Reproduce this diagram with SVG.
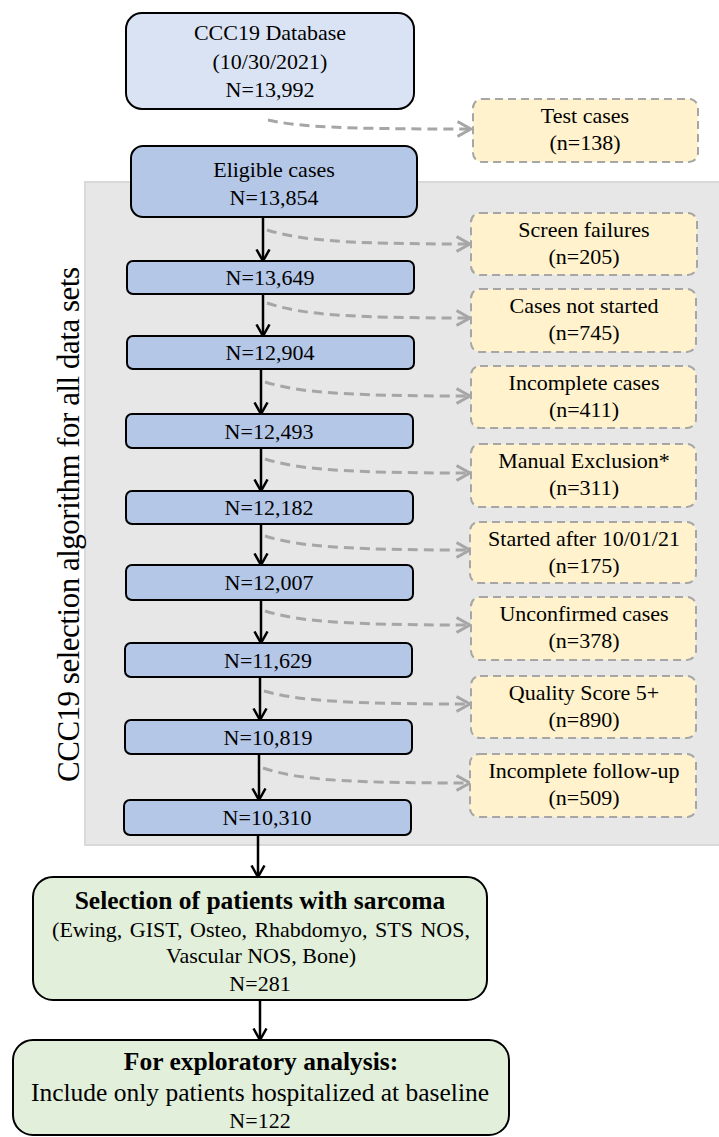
<svg xmlns="http://www.w3.org/2000/svg" width="719" height="1137" viewBox="0 0 719 1137">
<style>
text{font-family:"Liberation Serif","Times New Roman",serif;font-size:22px;fill:#000;text-anchor:middle}
.b{font-weight:bold;font-size:25.5px}
.big{font-size:25.5px}
.top{fill:#dae3f3;stroke:#000;stroke-width:2}
.blue{fill:#b4c7e7;stroke:#000;stroke-width:2}
.yel{fill:#fff2cc;stroke:#a6a6a6;stroke-width:2;stroke-dasharray:8 5}
.grn{fill:#e2efda;stroke:#000;stroke-width:2}
.arr{fill:none;stroke:#000;stroke-width:2.5;marker-end:url(#ah)}
.dash{fill:none;stroke:#a6a6a6;stroke-width:3;stroke-dasharray:10 6;marker-end:url(#gh)}
</style>
<defs>
<marker id="ah" viewBox="0 0 14 16" refX="12.5" refY="8" markerWidth="14" markerHeight="16" markerUnits="userSpaceOnUse" orient="auto"><path d="M1,1.5 L12.5,8 L1,14.5" fill="none" stroke="#000" stroke-width="2.5"/></marker>
<marker id="gh" viewBox="0 0 16 18" refX="14.5" refY="9" markerWidth="16" markerHeight="18" markerUnits="userSpaceOnUse" orient="auto"><path d="M1,1.5 L14.5,9 L1,16.5" fill="none" stroke="#a6a6a6" stroke-width="3"/></marker>
</defs>
<rect x="0" y="0" width="719" height="1137" fill="#fff"/>
<g id="band">
<rect x="85" y="182" width="640" height="663" fill="#e7e7e7" stroke="#d9d9d9" stroke-width="2"/>
<text transform="translate(79,524.5) rotate(-90)" style="font-size:31px" textLength="515" lengthAdjust="spacing">CCC19 selection algorithm for all data sets</text>
</g>
<g id="connectors">
<path class="arr" d="M263,217 V261"/>
<path class="arr" d="M263,294 V336"/>
<path class="arr" d="M261,369 V414"/>
<path class="arr" d="M261,448 V491"/>
<path class="arr" d="M261,524 V565"/>
<path class="arr" d="M261,600 V643"/>
<path class="arr" d="M260,677 V720"/>
<path class="arr" d="M259,754 V800"/>
<path class="arr" d="M258,835 V877"/>
<path class="arr" d="M260,1000 V1040"/>
<path class="dash" d="M268,120 C300,127 340,129 471,129"/>
<path class="dash" d="M267,230 C300,240 340,244 470,244"/>
<path class="dash" d="M267,303 C300,314 340,318 470,318"/>
<path class="dash" d="M265,382 C298,392 338,396 470,396"/>
<path class="dash" d="M265,459 C298,469 338,473 470,473"/>
<path class="dash" d="M265,536 C298,546 338,550 470,550"/>
<path class="dash" d="M265,611 C298,621 338,625 470,625"/>
<path class="dash" d="M264,691 C297,700 337,704 470,704"/>
<path class="dash" d="M263,768 C296,779 336,783 470,783"/>
</g>
<g id="n-db"><rect class="top" x="126" y="13" width="288" height="96" rx="16"/><text x="270" y="40">CCC19 Database</text><text x="270" y="69">(10/30/2021)</text><text x="270" y="97">N=13,992</text></g>
<g id="n-eligible"><rect class="blue" x="131" y="146" width="286" height="71" rx="12"/><text x="274" y="177">Eligible cases</text><text x="274" y="205">N=13,854</text></g>
<g id="n-13649"><rect class="blue" x="127" y="261" width="287" height="33" rx="6"/><text x="270" y="285">N=13,649</text></g>
<g id="n-12904"><rect class="blue" x="127" y="336" width="287" height="33" rx="6"/><text x="270" y="360">N=12,904</text></g>
<g id="n-12493"><rect class="blue" x="126" y="414" width="287" height="34" rx="6"/><text x="269" y="439">N=12,493</text></g>
<g id="n-12182"><rect class="blue" x="126" y="491" width="287" height="33" rx="6"/><text x="269" y="515">N=12,182</text></g>
<g id="n-12007"><rect class="blue" x="126" y="565" width="287" height="35" rx="6"/><text x="269" y="590">N=12,007</text></g>
<g id="n-11629"><rect class="blue" x="125" y="643" width="287" height="34" rx="6"/><text x="268" y="668">N=11,629</text></g>
<g id="n-10819"><rect class="blue" x="125" y="720" width="287" height="34" rx="6"/><text x="268" y="745">N=10,819</text></g>
<g id="n-10310"><rect class="blue" x="124" y="800" width="287" height="35" rx="6"/><text x="267" y="825">N=10,310</text></g>
<g id="x-test"><rect class="yel" x="473" y="99" width="225" height="63" rx="9"/><text x="585" y="123">Test cases</text><text x="585" y="150">(n=138)</text></g>
<g id="x-screen"><rect class="yel" x="471" y="213" width="226" height="62" rx="9"/><text x="584" y="237">Screen failures</text><text x="584" y="264">(n=205)</text></g>
<g id="x-notstarted"><rect class="yel" x="471" y="289" width="225" height="63" rx="9"/><text x="584" y="313">Cases not started</text><text x="584" y="340">(n=745)</text></g>
<g id="x-incomplete"><rect class="yel" x="471" y="366" width="225" height="62" rx="9"/><text x="584" y="390">Incomplete cases</text><text x="584" y="417">(n=411)</text></g>
<g id="x-manual"><rect class="yel" x="471" y="444" width="225" height="63" rx="9"/><text x="584" y="468">Manual Exclusion*</text><text x="584" y="495">(n=311)</text></g>
<g id="x-started"><rect class="yel" x="470" y="522" width="226" height="61" rx="9"/><text x="584" y="546">Started after 10/01/21</text><text x="584" y="573">(n=175)</text></g>
<g id="x-unconfirmed"><rect class="yel" x="471" y="597" width="225" height="63" rx="9"/><text x="584" y="621">Unconfirmed cases</text><text x="584" y="648">(n=378)</text></g>
<g id="x-quality"><rect class="yel" x="471" y="676" width="225" height="62" rx="9"/><text x="584" y="700">Quality Score 5+</text><text x="584" y="727">(n=890)</text></g>
<g id="x-followup"><rect class="yel" x="470" y="754" width="226" height="63" rx="9"/><text x="584" y="778">Incomplete follow-up</text><text x="584" y="805">(n=509)</text></g>
<g id="n-sarcoma"><rect class="grn" x="33" y="877" width="454" height="123" rx="20"/><text class="b" x="260" y="909">Selection of patients with sarcoma</text><text x="261" y="937" style="word-spacing:2px">(Ewing, GIST, Osteo, Rhabdomyo, STS NOS,</text><text x="261" y="963">Vascular NOS, Bone)</text><text x="260" y="991">N=281</text></g>
<g id="n-exploratory"><rect class="grn" x="13" y="1040" width="496" height="95" rx="20"/><text class="b" x="261" y="1070">For exploratory analysis:</text><text class="big" x="260" y="1101">Include only patients hospitalized at baseline</text><text x="260" y="1128">N=122</text></g>
</svg>
